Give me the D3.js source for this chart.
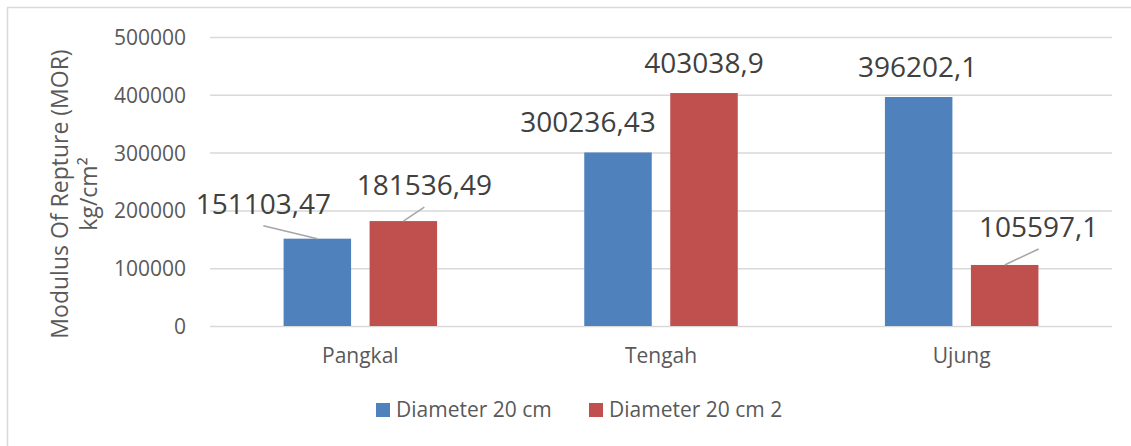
<!DOCTYPE html>
<html>
<head>
<meta charset="utf-8">
<script src="https://cdn.jsdelivr.net/npm/d3@7"></script>
<style>
  body { margin: 0; background: #fff; }
  svg { display: block; font-family: 'Open Sans', sans-serif; }
</style>
</head>
<body>
<div id="chart"></div>
<script>
const categories = ['Pangkal', 'Tengah', 'Ujung']
const seriesNames = ['Diameter 20 cm', 'Diameter 20 cm 2']
const diameter20 = [151103.47, 300236.43, 396202.1]
const diameter20b = [181536.49, 403038.9, 105597.1]
const valueLabels = [
  ['151103,47', '300236,43', '396202,1'],
  ['181536,49', '403038,9', '105597,1'],
]
const yTicks = [0, 100000, 200000, 300000, 400000, 500000]
const yTitle = ['Modulus Of Repture (MOR)', 'kg/cm²']

// label placement (px) per series/category, as dragged in the original: dx, dy, leader line
const labelOffsets = [
  [[-54, -25, true], [-30, -20, false], [-1, -20, false]],
  [[21, -26, true], [0, -20, false], [34, -28, true]],
]

const colors = ['#4F81BD', '#C0504D']
const textColor = '#595959'
const gridColor = '#D9D9D9'

const size = { width: 1131, height: 446 }
const plot = { left: 210, right: 1112, top: 37, bottom: 326 }

const svg = d3.select('#chart')
  .append('svg')
  .attr('width', size.width)
  .attr('height', size.height)

// chart frame
svg.append('rect')
  .attr('x', 7.5)
  .attr('y', 7.5)
  .attr('width', size.width)
  .attr('height', size.height)
  .attr('fill', 'none')
  .attr('stroke', gridColor)
  .attr('stroke-width', 1.5)

const xScale = d3.scaleBand()
  .domain(categories)
  .range([plot.left, plot.right])

const bw = xScale.bandwidth()
const x1 = d3.scaleBand()
  .domain(seriesNames)
  .range([bw / 2 - 76.75, bw / 2 + 76.75])
  .paddingInner(18.5 / 86)

const yScale = d3.scaleLinear()
  .domain([0, 500000])
  .range([plot.bottom, plot.top])

// y axis: gridlines + labels
const yAxis = d3.axisLeft(yScale)
  .tickValues(yTicks)
  .tickSize(-(plot.right - plot.left))
  .tickPadding(24)
  .tickFormat(d3.format('d'))

const gy = svg.append('g')
  .attr('class', 'axis axis-y')
  .attr('transform', `translate(${plot.left},0)`)
  .call(yAxis)

gy.select('.domain').remove()
gy.selectAll('.tick line')
  .attr('stroke', gridColor)
  .attr('stroke-width', 1.5)
gy.selectAll('.tick text')
  .attr('fill', textColor)
  .style('font-size', '21px')
  .style('font-family', "'Open Sans', sans-serif")
  .attr('dy', '0.36em')

// x axis labels
const xAxis = d3.axisBottom(xScale).tickSize(0).tickPadding(22)
const gx = svg.append('g')
  .attr('class', 'axis axis-x')
  .attr('transform', `translate(0,${plot.bottom})`)
  .call(xAxis)
gx.select('.domain').remove()
gx.selectAll('.tick text')
  .attr('fill', textColor)
  .style('font-size', '21px')
  .style('font-family', "'Open Sans', sans-serif")

// bars
const seriesValues = [diameter20, diameter20b]
const rows = []
seriesValues.forEach((vals, s) => {
  vals.forEach((v, i) => {
    rows.push({ s, cat: categories[i], i, value: v })
  })
})

const barX = d => xScale(d.cat) + x1(seriesNames[d.s])
const barCenter = d => barX(d) + x1.bandwidth() / 2

svg.append('g')
  .attr('class', 'bars')
  .selectAll('rect')
  .data(rows)
  .enter()
  .append('rect')
  .attr('x', barX)
  .attr('y', d => yScale(d.value))
  .attr('width', x1.bandwidth())
  .attr('height', d => yScale(0) - yScale(d.value))
  .attr('fill', d => colors[d.s])

// data labels + leader lines
const labels = svg.append('g').attr('class', 'labels')
rows.forEach(d => {
  const [dx, dy, leader] = labelOffsets[d.s][d.i]
  const lx = barCenter(d) + dx
  const ly = yScale(d.value) + dy
  if (leader) {
    labels.append('line')
      .attr('x1', lx)
      .attr('y1', ly + 12)
      .attr('x2', barCenter(d))
      .attr('y2', yScale(d.value))
      .attr('stroke', '#A6A6A6')
      .attr('stroke-width', 1.5)
  }
  labels.append('text')
    .attr('x', lx)
    .attr('y', ly)
    .attr('text-anchor', 'middle')
    .attr('fill', '#404040')
    .style('font-size', '28px')
    .text(valueLabels[d.s][d.i])
})

// y title
const titleG = svg.append('g')
  .attr('transform', 'translate(0,194) rotate(-90)')
titleG.append('text')
  .attr('x', 0)
  .attr('y', 68)
  .attr('text-anchor', 'middle')
  .attr('fill', textColor)
  .style('font-size', '23px')
  .text(yTitle[0])
titleG.append('text')
  .attr('x', 0)
  .attr('y', 97)
  .attr('text-anchor', 'middle')
  .attr('fill', textColor)
  .style('font-size', '23px')
  .text(yTitle[1])

// legend
const legendX = [376, 589]
const legend = svg.append('g').attr('class', 'legend')
seriesNames.forEach((name, s) => {
  legend.append('rect')
    .attr('x', legendX[s])
    .attr('y', 403)
    .attr('width', 14)
    .attr('height', 14)
    .attr('fill', colors[s])
  legend.append('text')
    .attr('x', legendX[s] + 20)
    .attr('y', 417)
    .attr('fill', textColor)
    .style('font-size', '21px')
    .text(name)
})
</script>
</body>
</html>
